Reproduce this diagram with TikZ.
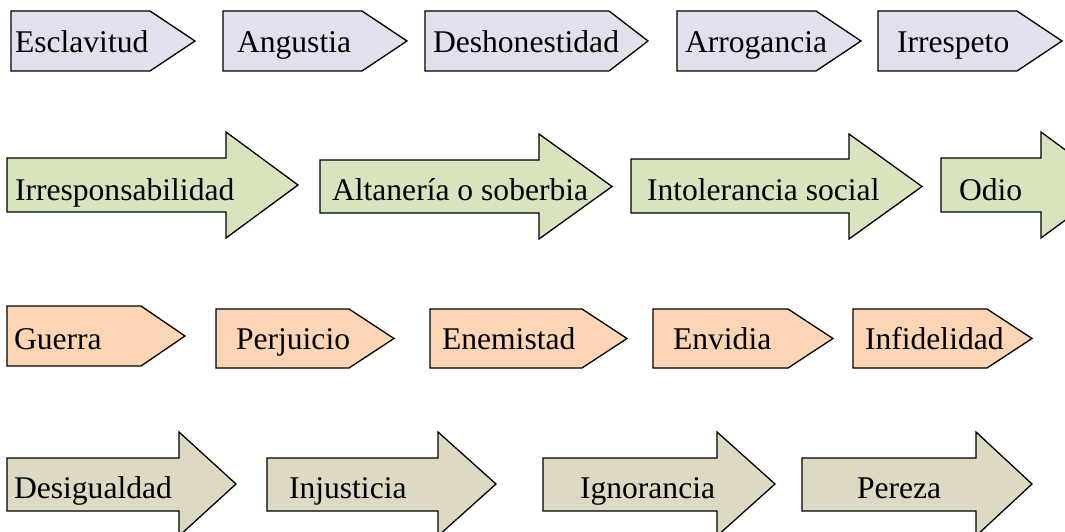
\documentclass[tikz,border=0pt]{standalone}
\usepackage{fontspec}
\setmainfont{Liberation Serif}
\definecolor{lav}{HTML}{E4DFEC}
\definecolor{grn}{HTML}{D7E4BD}
\definecolor{pch}{HTML}{FCD5B5}
\definecolor{tan}{HTML}{DDD9C3}
\tikzset{
  shapeline/.style={draw=black, line width=1.3pt, line join=miter},
  lbl/.style={anchor=base west, inner sep=0pt, outer sep=0pt, font=\fontsize{31.6}{36}\selectfont},
}
% pentagon arrow: #1 left, #2 top, #3 bottom, #4 shoulder, #5 tip, #6 colour
\newcommand\pentarrow[6]{%
  \filldraw[shapeline, fill=#6] (#1,#2) -- (#4,#2) -- (#5,{(#2+#3)/2}) -- (#4,#3) -- (#1,#3) -- cycle;}
% block arrow: #1 left, #2 body top, #3 body bottom, #4 head base, #5 head top, #6 head bottom, #7 tip, #8 colour
\newcommand\blockarrow[8]{%
  \filldraw[shapeline, fill=#8] (#1,#2) -- (#4,#2) -- (#4,#5) -- (#7,{(#5+#6)/2}) -- (#4,#6) -- (#4,#3) -- (#1,#3) -- cycle;}
\begin{document}
\begin{tikzpicture}[x=1pt,y=-1pt]
\useasboundingbox (0,0) rectangle (1065,532);
\clip (0,0) rectangle (1065,532);
% Row 1
\pentarrow{11}{11}{71}{150}{195}{lav}
\pentarrow{223}{11}{71}{362}{407}{lav}
\pentarrow{425}{11}{71}{609}{648}{lav}
\pentarrow{677}{11}{71}{816}{861}{lav}
\pentarrow{878}{11}{71}{1017}{1062}{lav}
\node[lbl] (esc) at (15,53) {Esclavitud};
\node[lbl] (ang) at (237,53) {Angustia};
\node[lbl] (des) at (433,53) {Deshonestidad};
\node[lbl] (arr) at (685,53) {Arrogancia};
\node[lbl] (irr) at (897,53) {Irrespeto};
% Row 2
\blockarrow{7}{158}{212}{226}{132}{238}{298}{grn}
\blockarrow{320}{160}{213}{539}{134}{239}{612}{grn}
\blockarrow{631}{159}{213}{849}{134}{239}{922}{grn}
\blockarrow{941}{158}{212}{1041}{132}{238}{1113}{grn}
\node[lbl] (irs) at (15,200) {Irresponsabilidad};
\node[lbl] (alt) at (332,200) {Altanería o soberbia};
\node[lbl] (int) at (647,200) {Intolerancia social};
\node[lbl] (odi) at (959,200) {Odio};
% Row 3
\pentarrow{7}{306}{366}{141}{185}{pch}
\pentarrow{216}{309}{368}{349}{394}{pch}
\pentarrow{430}{309}{368}{582}{627}{pch}
\pentarrow{653}{309}{368}{788}{833}{pch}
\pentarrow{853}{309}{368}{987}{1032}{pch}
\node[lbl] (gue) at (14,349) {Guerra};
\node[lbl] (per) at (236,349) {Perjuicio};
\node[lbl] (ene) at (442,349) {Enemistad};
\node[lbl] (env) at (673,349) {Envidia};
\node[lbl] (inf) at (865,349) {Infidelidad};
% Row 4
\blockarrow{7}{458}{511}{179}{432}{536}{236}{tan}
\blockarrow{267}{458}{511}{438}{432}{536}{496}{tan}
\blockarrow{543}{458}{511}{717}{432}{536}{775}{tan}
\blockarrow{802}{458}{511}{976}{432}{536}{1032}{tan}
\node[lbl] (dsg) at (14,498) {Desigualdad};
\node[lbl] (inj) at (289,498) {Injusticia};
\node[lbl] (ign) at (580,498) {Ignorancia};
\node[lbl] (per2) at (857,498) {Pereza};
\end{tikzpicture}
\end{document}
